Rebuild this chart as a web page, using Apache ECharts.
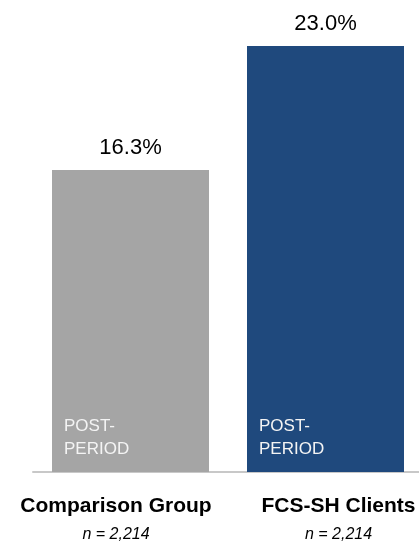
<!DOCTYPE html>
<html>
<head>
<meta charset="utf-8">
<script src="https://cdn.jsdelivr.net/npm/echarts@6/dist/echarts.min.js"></script>
<style>html,body{margin:0;padding:0;background:#fff;overflow:hidden}#wrap{width:419px;height:543px;overflow:hidden}#c{width:423px;height:543px}</style>
</head>
<body>
<div id="wrap"><div id="c"></div></div>
<script>
const categories = ['Comparison Group', 'FCS-SH Clients'];
const sampleSizes = ['n = 2,214', 'n = 2,214'];
const values = [16.3, 23.0];
const innerLabel = 'POST-\nPERIOD';
const colors = ['#a5a5a5', '#1f497d'];

const chart = echarts.init(document.getElementById('c'), null, {renderer: 'canvas'});
const FONT = '"Liberation Sans", Arial, sans-serif';
chart.setOption({
  animation: false,
  grid: {left: 33, top: 46, right: 0, bottom: 71},
  xAxis: {
    type: 'category',
    data: categories.map((c, i) => ({
      value: c,
      textStyle: {padding: i === 0 ? [0, 29, 0, 0] : [0, 0, 0, 26]}
    })),
    axisLine: {lineStyle: {color: '#c8c8c8', width: 2}},
    axisTick: {show: false},
    axisLabel: {
      margin: 20,
      interval: 0,
      formatter: (v, i) => '{b|' + v + '}\n{n|' + sampleSizes[i] + '}',
      rich: {
        b: {fontFamily: FONT, fontWeight: 'bold', fontSize: 21, color: '#000', lineHeight: 28},
        n: {fontFamily: FONT, fontStyle: 'italic', fontSize: 16, color: '#000', lineHeight: 29}
      }
    }
  },
  yAxis: {type: 'value', min: 0, max: 23, show: false, splitLine: {show: false}},
  series: [
    {
      type: 'bar',
      barWidth: 157,
      data: values.map((v, i) => ({value: v, itemStyle: {color: colors[i]}})),
      label: {
        show: true, position: 'top', distance: 11,
        formatter: p => p.value.toFixed(1) + '%',
        fontFamily: FONT, fontSize: 22, color: '#000'
      }
    },
    {
      type: 'bar',
      barWidth: 157,
      barGap: '-100%',
      silent: true,
      data: values.map(v => ({value: v, itemStyle: {color: 'rgba(0,0,0,0)'}})),
      label: {
        show: true, position: 'insideBottomLeft', distance: 0,
        offset: [12, -11],
        formatter: innerLabel,
        fontFamily: FONT, fontSize: 17, lineHeight: 23, color: '#f4f4f4'
      }
    }
  ]
});
</script>
</body>
</html>
